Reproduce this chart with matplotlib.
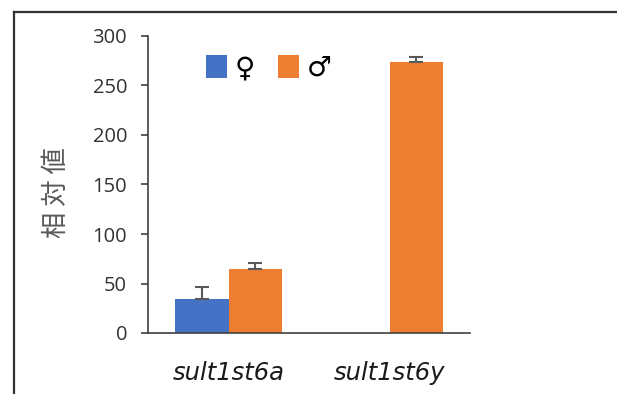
import numpy as np
import matplotlib.pyplot as plt
from matplotlib.lines import Line2D

plt.rcParams['font.family'] = ['Open Sans', 'Noto Sans CJK JP', 'DejaVu Sans']

# data
genes = ['sult1st6a', 'sult1st6y']
female = [34, 0]
female_err = [12, 0]
male = [65, 274]
male_err = [6, 5]
series_labels = ['\u2640', '\u2642']

blue = '#4472C4'
orange = '#ED7D31'
err_color = '#595959'

fig = plt.figure(figsize=(6.17, 3.94), dpi=100)
ax = fig.add_axes([148 / 617, 61 / 394, 322 / 617, 297 / 394])

x = np.arange(len(genes))
w = 0.33
ax.bar(x - w / 2, female, w, color=blue, label=series_labels[0])
ax.bar(x + w / 2, male, w, color=orange, label=series_labels[1])

# upper error bars only, skip empty bars
for xs, vals, errs in [(x - w / 2, female, female_err), (x + w / 2, male, male_err)]:
    for xi, v, e in zip(xs, vals, errs):
        if e > 0:
            ax.errorbar(xi, v, yerr=[[0], [e]], fmt='none', ecolor=err_color,
                        elinewidth=1.5, capsize=5, capthick=1.5)

ax.set_xlim(-0.5, 1.5)
ax.set_ylim(0, 300)
ax.set_yticks(np.arange(0, 301, 50))
ax.set_xticks(x)
ax.set_xticklabels(genes, fontsize=17.5, style='italic', family='DejaVu Sans',
                   color='#1a1a1a')
ax.tick_params(axis='x', length=0, pad=20)
ax.tick_params(axis='y', length=5, width=1.2, labelsize=14.5, pad=10, colors='#404040')
ax.tick_params(axis='y', labelcolor='#333333')

for s in ['top', 'right']:
    ax.spines[s].set_visible(False)
for s in ['left', 'bottom']:
    ax.spines[s].set_linewidth(1.2)
    ax.spines[s].set_color('#404040')

ax.set_ylabel('相 対 値', fontsize=19, color='#595959', family=['Noto Sans CJK JP'])
ax.yaxis.set_label_coords(-0.243, 0.473)

ax.legend(loc='upper left', bbox_to_anchor=(0.125, 1.0), ncol=2, frameon=False,
          prop=dict(family='DejaVu Sans', size=20), handlelength=0.74,
          handleheight=0.95, handletextpad=0.27, columnspacing=0.85, borderaxespad=0.25)

# frame edges of the original screenshot
fig.add_artist(Line2D([14 / 617, 14 / 617], [0, 382 / 394], color='#333333', lw=1.6))
fig.add_artist(Line2D([14 / 617, 1], [382 / 394, 382 / 394], color='#333333', lw=1.6))

fig.savefig('out.png', dpi=100)
